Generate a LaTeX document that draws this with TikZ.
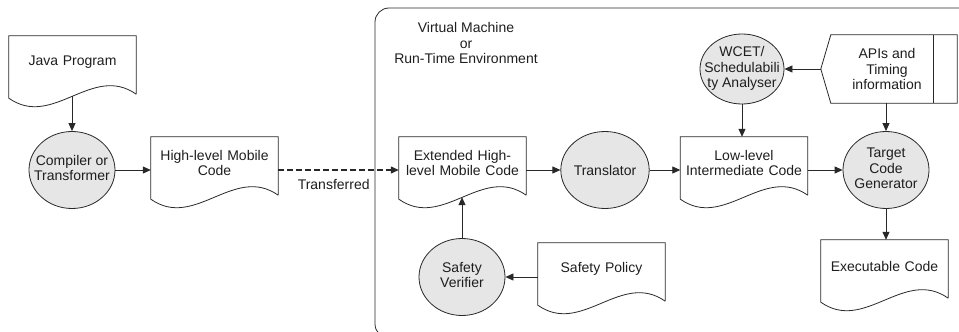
\documentclass[tikz,border=0pt]{standalone}
\usepackage{fontspec}
\setmainfont{Liberation Sans}
\usetikzlibrary{arrows.meta,calc,shapes.geometric}
\definecolor{procfill}{RGB}{230,230,230}
\definecolor{linec}{RGB}{40,40,40}
\definecolor{textc}{RGB}{30,30,30}
\newcommand\ptext[1]{\makebox[0pt]{\begin{tabular}{@{}c@{}}#1\end{tabular}}}
\newcommand\docshape[1]{%
  \draw[docline] ($(#1.south east)+(0,6)$) -- (#1.north east) -- (#1.north west) -- ($(#1.south west)+(0,10)$)
    .. controls ($(#1.south west)+(44,41)$) and ($(#1.south east)+(-44,-25)$) .. ($(#1.south east)+(0,6)$);}
\begin{document}
\begin{tikzpicture}[x=1pt,y=-1pt,
  every node/.style={font=\fontsize{14}{15.5}\selectfont, text=textc},
  docbox/.style={rectangle, minimum width=127pt, minimum height=52pt, inner sep=0pt, text width=125pt, align=center},
  proc/.style={ellipse, draw=linec, fill=procfill, line width=0.8pt, minimum width=86pt, minimum height=77pt, inner sep=0pt},
  docline/.style={draw=linec, line width=0.8pt},
  flow/.style={draw=linec, line width=0.8pt, -{Triangle[length=8pt,width=7pt]}},
  xfer/.style={flow, line width=1.2pt, dash pattern=on 6pt off 3pt},
]
\clip (0,0) rectangle (959,332);
\draw[docline, rounded corners=14pt] (375,8) rectangle (990,338);
\node[align=center] (vm) at (466,43) {Virtual Machine\\or\\Run-Time Environment};

% documents
\node[docbox] (java) at (72.5,62) {Java Program};
\node[docbox] (hlmc) at (214.5,163) {High-level Mobile\\Code};
\node[docbox] (ext) at (462.5,163) {Extended High-\\level Mobile Code};
\node[docbox] (low) at (744,163) {Low-level\\Intermediate Code};
\node[docbox] (sp) at (601.5,269) {Safety Policy};
\node[docbox] (exec) at (884.5,266) {Executable Code};
\docshape{java}
\docshape{hlmc}
\docshape{ext}
\docshape{low}
\docshape{sp}
\docshape{exec}

% processes
\node[proc] (comp) at (72,170) {\ptext{Compiler or\\Transformer}};
\node[proc] (trans) at (605,170) {Translator};
\node[proc] (sv) at (462,277) {\ptext{Safety\\Verifier}};
\node[proc, minimum width=84pt, minimum height=70pt] (wcet) at (742,69) {\ptext{WCET/\\Schedulabili\\ty Analyser}};
\node[proc] (target) at (886,170) {\ptext{Target\\Code\\Generator}};

% stored data
\node[minimum width=132pt, minimum height=68pt, inner sep=0pt, align=center] (apis) at (887,69) {APIs and\\Timing\\information};
\draw[docline] (apis.west) -- ($(apis.north west)+(10,0)$) -- ($(apis.north east)+(4,0)$) -- ($(apis.south east)+(4,0)$) -- ($(apis.south west)+(10,0)$) -- cycle;
\draw[docline] ($(apis.north east)+(-20,0)$) -- ($(apis.south east)+(-20,0)$);

% connectors
\draw[flow] ($(comp.north |- java.south)+(0,8)$) -- (comp.north);
\draw[flow] (comp.east) -- (comp.east -| hlmc.west);
\draw[xfer] (hlmc.east |- comp.east) -- node[pos=0.46, yshift=-14pt] {Transferred} (ext.west |- comp.east);
\draw[flow] (ext.east |- trans.west) -- (trans.west);
\draw[flow] (trans.east) -- (trans.east -| low.west);
\draw[flow] (low.east |- target.west) -- (target.west);
\draw[flow] (wcet.south) -- (wcet.south |- low.north);
\draw[flow] (apis.west) -- (apis.west -| wcet.east);
\draw[flow] (apis.south -| target.north) -- (target.north);
\draw[flow] (target.south) -- (target.south |- exec.north);
\draw[flow] (sv.north) -- ($(sv.north |- ext.south)+(0,8)$);
\draw[flow] (sp.west |- sv.east) -- (sv.east);
\end{tikzpicture}
\end{document}
